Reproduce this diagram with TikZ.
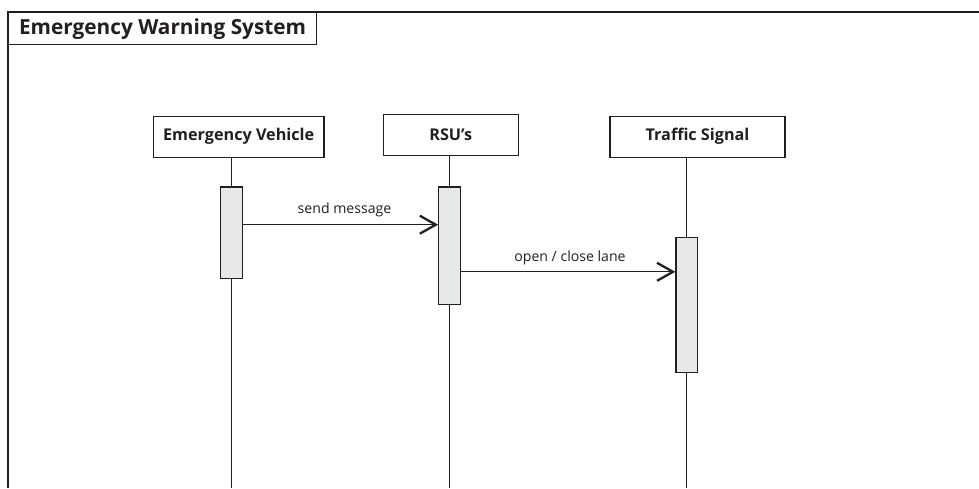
\documentclass[tikz,border=0pt]{standalone}
\usepackage{fontspec}
\setmainfont{Open Sans}
\usetikzlibrary{arrows.meta}
\definecolor{ink}{HTML}{231F20}
\definecolor{actfill}{HTML}{E6E7E8}
\begin{document}
\begin{tikzpicture}[x=1pt,y=-1pt,
  line width=1.2pt, draw=ink,
  frameline/.style={draw=ink,line width=1.3pt},
  titlebox/.style={draw=ink,line width=1.2pt,inner sep=0pt,anchor=north west,
    minimum width=308pt,minimum height=32pt,
    font=\fontsize{20.8}{24}\selectfont\bfseries,text=ink},
  header/.style={draw=ink,line width=1.2pt,fill=white,inner sep=0pt,
    minimum height=41pt,font=\fontsize{16.2}{19}\selectfont\bfseries,text=ink},
  activation/.style={draw=ink,line width=1.2pt,fill=actfill,inner sep=0pt,
    minimum width=21.5pt,anchor=north},
  lifeline/.style={draw=ink,line width=1.2pt},
  msg/.style={draw=ink,line width=1.2pt,
    -{Straight Barb[length=16pt,width=18pt,line width=2.3pt]}},
  msglabel/.style={font=\fontsize{14.1}{17}\selectfont,text=ink,anchor=base}
]
\useasboundingbox (0,0) rectangle (979,488);
\coordinate (bottom) at (0,488);

% frame
\draw[frameline] (8,488) -- (8,12) -- (979,12);
\node[titlebox] (title) at (8,12) {Emergency Warning System};

% participants
\node[header,minimum width=170.5pt] (ev) at (238.7,136.7) {Emergency Vehicle};
\node[header,minimum width=135pt] (rsu) at (450.8,135) {RSU’s};
\node[header,minimum width=175pt] (ts) at (697.5,136.7) {Traffic Signal};

% activation bars
\node[activation,minimum height=91.5pt] (a1) at (231.4,186.3) {};
\node[activation,minimum height=117.7pt] (a2) at (449.5,186.3) {};
\node[activation,minimum height=135pt] (a3) at (686.7,236.7) {};

% lifelines
\draw[lifeline] (a1.north |- ev.south) -- (a1.north);
\draw[lifeline] (a1.south) -- (a1.south |- bottom);
\draw[lifeline] (a2.north |- rsu.south) -- (a2.north);
\draw[lifeline] (a2.south) -- (a2.south |- bottom);
\draw[lifeline] (a3.north |- ts.south) -- (a3.north);
\draw[lifeline] (a3.south) -- (a3.south |- bottom);

% messages
\coordinate (m1) at (0,224.7);
\coordinate (m2) at (0,271.8);
\draw[msg] (a1.east |- m1) -- (a2.west |- m1);
\draw[msg] (a2.east |- m2) -- (a3.west |- m2);
\node[msglabel] (l1) at (344.5,213) {send message};
\node[msglabel] (l2) at (570,261.7) {open / close lane};
\end{tikzpicture}
\end{document}
